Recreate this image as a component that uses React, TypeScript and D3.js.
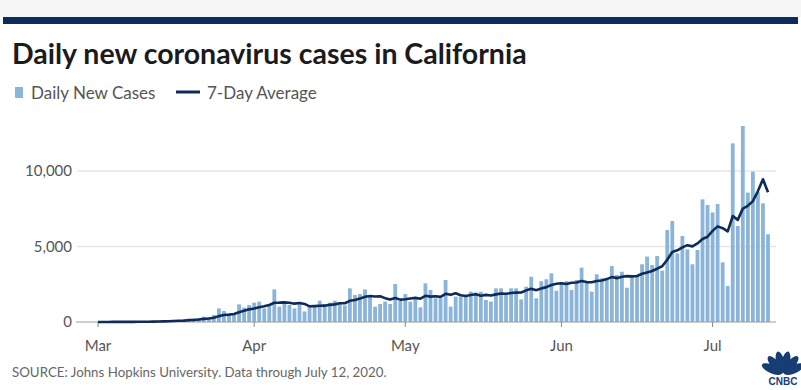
import React, { useEffect, useRef } from 'react';
import * as d3 from 'd3';

// daily new cases, Mar 1 .. Jul 12 2020
const march = [
  0, 3, 8, 10, 15, 10, 12, 20, 19, 25, 45, 50, 68, 52, 80, 120, 130, 150, 230, 210,
  260, 350, 300, 470, 900, 730, 420, 560, 1170, 950, 1130,
];
const april = [
  1280, 1350, 900, 1125, 2160, 1015, 1280, 1125, 900, 1190, 700, 1060, 1125, 1410, 1190,
  1280, 1410, 1190, 1100, 2230, 1790, 1850, 2160, 1700, 1015, 1190, 1350, 1190, 2520, 1410,
];
const may = [
  1850, 1350, 1500, 970, 2560, 2120, 1570, 1570, 2780, 1015, 1680, 1680, 1790, 2010, 1950,
  2010, 1460, 1350, 2230, 2230, 1900, 2230, 2230, 1500, 2340, 3000, 1570, 2700, 2830, 3220, 2070,
];
const june = [
  2560, 2700, 2120, 2780, 3600, 2670, 2010, 3160, 2890, 2780, 3710, 3110, 3330, 2270, 3070,
  3070, 3820, 4330, 3780, 4370, 3400, 6090, 6690, 4550, 5700, 4810, 3820, 4770, 8120, 7750,
];
const july = [7260, 7810, 3950, 2380, 11830, 6360, 12980, 8570, 9960, 8600, 7860, 5810];

const yTicks = [0, 5000, 10000];
const monthLabels = ['Mar', 'Apr', 'May', 'Jun', 'Jul'];

const W = 801;
const H = 390;
const BAR = '#8ab4da';
const NAVY = '#0f2b57';

export default function App() {
  const ref = useRef<SVGSVGElement>(null);

  useEffect(() => {
    if (!ref.current) return;
    const svg = d3.select(ref.current);
    svg.selectAll('*').remove();

    const values = [...march, ...april, ...may, ...june, ...july];
    const start = new Date(Date.UTC(2020, 2, 1));
    const days = values.map((v, i) => ({ date: d3.utcDay.offset(start, i), value: v }));
    // trailing 7-day mean
    const avg = days.map((d, i) => ({
      date: d.date,
      value: d3.mean(values.slice(Math.max(0, i - 6), i + 1))!,
    }));

    const x = d3
      .scaleUtc()
      .domain([start, days[days.length - 1].date])
      .range([98, 768]);
    const y = d3.scaleLinear().domain([0, 10000]).range([322, 171]);

    svg.append('rect').attr('width', W).attr('height', H).attr('fill', '#fff');
    svg.append('rect').attr('width', W).attr('height', 17).attr('fill', '#f6f6f6');
    svg.append('rect').attr('x', 3).attr('y', 17).attr('width', 795).attr('height', 7).attr('fill', '#0c2c5c');

    svg
      .append('text')
      .attr('x', 12)
      .attr('y', 64)
      .attr('font-family', 'Lato, sans-serif')
      .attr('font-weight', 700)
      .attr('font-size', 28.5)
      .attr('fill', '#1b1b1b')
      .text('Daily new coronavirus cases in California');

    // legend
    const lg = svg.append('g').attr('font-family', 'Lato, sans-serif').attr('font-size', 17).attr('fill', '#555');
    lg.append('rect').attr('x', 15).attr('y', 87).attr('width', 8).attr('height', 11).attr('fill', BAR);
    lg.append('text').attr('x', 31).attr('y', 99).text('Daily New Cases');
    lg.append('line').attr('x1', 176).attr('x2', 200).attr('y1', 92).attr('y2', 92).attr('stroke', NAVY).attr('stroke-width', 3);
    lg.append('text').attr('x', 207).attr('y', 99).text('7-Day Average');

    // grid + y labels
    const grid = svg.append('g');
    yTicks.forEach((t) => {
      if (t > 0) {
        grid.append('line').attr('x1', 77).attr('x2', 776).attr('y1', y(t)).attr('y2', y(t)).attr('stroke', '#e6e6e6').attr('stroke-width', 1.5);
      }
      grid
        .append('text')
        .attr('x', 72)
        .attr('y', y(t) + 5)
        .attr('text-anchor', 'end')
        .attr('font-family', 'Lato, sans-serif')
        .attr('font-size', 15)
        .attr('fill', '#555')
        .text(d3.format(',')(t));
    });

    // bars
    svg
      .append('g')
      .selectAll('rect')
      .data(days)
      .enter()
      .append('rect')
      .attr('x', (d) => x(d.date) - 1.9)
      .attr('y', (d) => y(d.value))
      .attr('width', 3.8)
      .attr('height', (d) => y(0) - y(d.value))
      .attr('fill', BAR);

    // baseline + month ticks
    svg.append('line').attr('x1', 76).attr('x2', 776).attr('y1', y(0)).attr('y2', y(0)).attr('stroke', '#9a9a9a').attr('stroke-width', 1);
    const months = d3.utcMonth.range(start, d3.utcDay.offset(days[days.length - 1].date, 1));
    const ax = svg.append('g');
    months.forEach((m, i) => {
      ax.append('line').attr('x1', x(m)).attr('x2', x(m)).attr('y1', y(0)).attr('y2', y(0) + 5).attr('stroke', '#888');
      ax
        .append('text')
        .attr('x', x(m))
        .attr('y', 351)
        .attr('text-anchor', 'middle')
        .attr('font-family', 'Lato, sans-serif')
        .attr('font-size', 15)
        .attr('fill', '#555')
        .text(monthLabels[i]);
    });

    // 7-day average line
    const line = d3
      .line<{ date: Date; value: number }>()
      .x((d) => x(d.date))
      .y((d) => y(d.value));
    svg
      .append('path')
      .datum(avg)
      .attr('d', line)
      .attr('fill', 'none')
      .attr('stroke', NAVY)
      .attr('stroke-width', 2.6)
      .attr('stroke-linejoin', 'round');

    svg
      .append('text')
      .attr('x', 12)
      .attr('y', 377)
      .attr('font-family', 'Lato, sans-serif')
      .attr('font-size', 13.3)
      .attr('fill', '#666')
      .text('SOURCE: Johns Hopkins University. Data through July 12, 2020.');

    // CNBC peacock mark
    const logo = svg.append('g').attr('transform', 'translate(783,374)');
    [-66, -40, -13, 13, 40, 66].forEach((a) => {
      logo
        .append('ellipse')
        .attr('cx', 0)
        .attr('cy', -12)
        .attr('rx', 4.2)
        .attr('ry', 11)
        .attr('fill', '#173d74')
        .attr('transform', `rotate(${a})`);
    });
    logo
      .append('text')
      .attr('x', 0)
      .attr('y', 11)
      .attr('text-anchor', 'middle')
      .attr('font-family', 'Liberation Sans, Arial, sans-serif')
      .attr('font-weight', 700)
      .attr('font-size', 10)
      .attr('fill', '#173d74')
      .text('CNBC');
  }, []);

  return <svg ref={ref} width={W} height={H} style={{ position: 'absolute', left: 0, top: 0 }}></svg>;
}
